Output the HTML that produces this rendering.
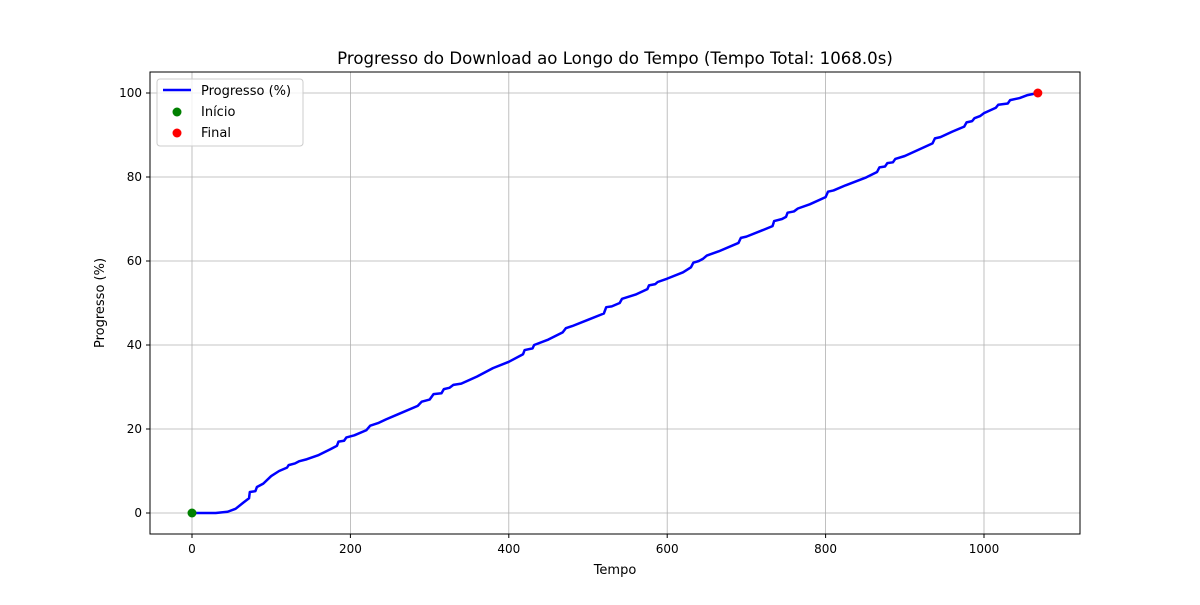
<!DOCTYPE html>
<html><head><meta charset="utf-8"><style>
body{margin:0;background:#fff;font-family:"Liberation Sans","DejaVu Sans",sans-serif;}
svg text{font-family:"DejaVu Sans","Liberation Sans",sans-serif;}
</style></head><body>
<svg id="chart" width="1200" height="600" xmlns="http://www.w3.org/2000/svg">
<rect width="1200" height="600" fill="#fff"/>
<g id="grid"></g>
<g id="series"></g>
<rect x="150" y="72" width="930" height="462" fill="none" stroke="#000" stroke-width="1"/>
<g id="ticks"></g>
<text x="615" y="64" text-anchor="middle" font-size="16.6">Progresso do Download ao Longo do Tempo (Tempo Total: 1068.0s)</text>
<text x="615" y="574" text-anchor="middle" font-size="13">Tempo</text>
<text transform="translate(104,303) rotate(-90)" text-anchor="middle" font-size="13">Progresso (%)</text>
<g>
<rect x="157" y="79" width="146" height="67" rx="3" fill="#fff" fill-opacity="0.8" stroke="#ccc"/>
<line x1="163" y1="90" x2="191" y2="90" stroke="#0000ff" stroke-width="2.5"/>
<text x="201" y="95" font-size="13">Progresso (%)</text>
<circle cx="177" cy="112" r="4.5" fill="green"/>
<text x="201" y="116" font-size="13">Início</text>
<circle cx="177" cy="133" r="4.5" fill="red"/>
<text x="201" y="137" font-size="13">Final</text>
</g>
</svg>
<script>
const xTicks=[0,200,400,600,800,1000];
const yTicks=[0,20,40,60,80,100];
const times=[0,30,45,55,65,72,73,80,82,90,100,110,120,122,130,135,145,160,175,183,185,192,195,205,220,225,235,245,260,285,290,300,305,315,318,325,330,340,360,380,400,418,420,430,432,450,468,472,480,500,520,523,530,540,543,560,575,577,585,588,600,620,630,633,640,645,650,665,690,693,700,720,733,735,745,750,752,760,765,780,800,803,810,825,850,865,868,875,878,885,888,900,935,938,945,960,975,978,985,988,995,1000,1015,1018,1030,1033,1045,1055,1068];
const progress=[0,0,0.3,1,2.5,3.5,5,5.2,6.2,7,8.8,10,10.8,11.4,11.8,12.3,12.8,13.8,15.2,16,17,17.2,18,18.5,19.7,20.8,21.4,22.3,23.5,25.5,26.5,27,28.3,28.5,29.5,29.8,30.5,30.8,32.5,34.5,36,37.8,38.8,39.2,40,41.3,43,44,44.5,46,47.5,49,49.2,50,51,52,53.3,54.2,54.5,55,55.8,57.3,58.5,59.6,60,60.5,61.3,62.3,64.3,65.5,65.8,67.3,68.3,69.5,70,70.5,71.5,71.8,72.5,73.5,75.2,76.5,76.8,78,79.8,81.2,82.3,82.5,83.3,83.5,84.3,85,88,89.2,89.5,90.8,92,93,93.3,94,94.5,95.2,96.5,97.2,97.5,98.3,98.8,99.5,100];
const X=v=>192+v*0.792, Y=v=>513-v*4.2;
const NS="http://www.w3.org/2000/svg";
const g=document.getElementById('grid'),t=document.getElementById('ticks'),s=document.getElementById('series');
function mk(tag,a,p){const e=document.createElementNS(NS,tag);for(const k in a)e.setAttribute(k,a[k]);p.appendChild(e);return e;}
xTicks.forEach(v=>{
 const l=mk('line',{x1:X(v),x2:X(v),y1:72,y2:534,stroke:'#b0b0b0','stroke-width':0.8},g);
 
 
 mk('line',{x1:X(v),x2:X(v),y1:534,y2:538,stroke:'#000'},t);
 const tx=mk('text',{x:X(v),y:553,'text-anchor':'middle','font-size':12},t);tx.textContent=v;
 
 
});
yTicks.forEach(v=>{
 const l=mk('line',{x1:150,x2:1080,y1:Y(v),y2:Y(v),stroke:'#b0b0b0','stroke-width':0.8},g);
 
 
 mk('line',{x1:146,x2:150,y1:Y(v),y2:Y(v),stroke:'#000'},t);
 const tx=mk('text',{x:142,y:Y(v)+4,'text-anchor':'end','font-size':12},t);tx.textContent=v;
 
 
});
const pl=mk('polyline',{points:times.map((v,i)=>X(v)+','+Y(progress[i])).join(' '),fill:'none',stroke:'#0000ff','stroke-width':2.5,'stroke-linejoin':'round'},s);


const c1=mk('circle',{cx:X(times[0]),cy:Y(progress[0]),r:4.5,fill:'green'},s);


const n=times.length-1;
const c2=mk('circle',{cx:X(times[n]),cy:Y(progress[n]),r:4.5,fill:'red'},s);


</script>
</body></html>
